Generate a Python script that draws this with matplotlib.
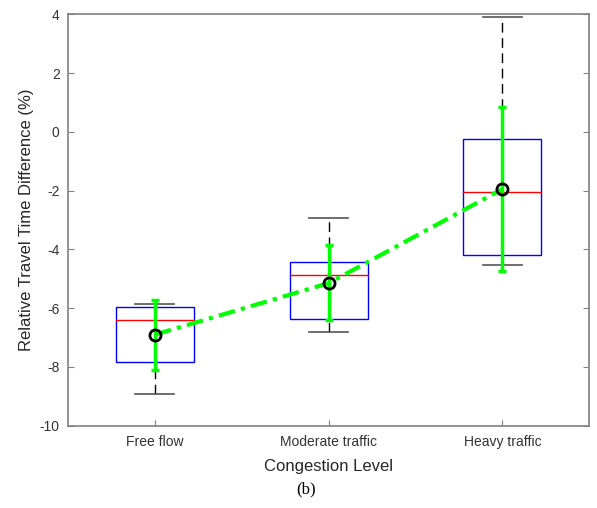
import matplotlib
matplotlib.use("Agg")
import matplotlib.pyplot as plt
import numpy as np

categories = ["Free flow", "Moderate traffic", "Heavy traffic"]
q1 = [-7.82, -6.38, -4.20]
median = [-6.42, -4.86, -2.05]
q3 = [-5.95, -4.42, -0.25]
whisker_low = [-8.92, -6.80, -4.52]
whisker_high = [-5.86, -2.95, 3.92]
mean = [-6.90, -5.15, -1.95]
err_low = [-8.10, -6.42, -4.75]
err_high = [-5.74, -3.84, 0.86]

plt.rcParams["font.family"] = ["Liberation Sans", "DejaVu Sans"]
plt.rcParams["axes.unicode_minus"] = False

fig = plt.figure(figsize=(5.97, 5.08), dpi=100)
ax = fig.add_axes([0.114, 0.162, 0.873, 0.810])

x = np.arange(1, len(categories) + 1)
box_w = 0.45
cap_w = 0.225

for xi, lo, a, m, b, hi in zip(x, whisker_low, q1, median, q3, whisker_high):
    ax.plot([xi, xi], [b, hi], color="black", linestyle=(0, (7, 4)), linewidth=1, zorder=2)
    ax.plot([xi, xi], [lo, a], color="black", linestyle=(0, (7, 4)), linewidth=1, zorder=2)
    ax.plot([xi - cap_w / 2, xi + cap_w / 2], [hi, hi], color="#555555", linewidth=1.2, zorder=2)
    ax.plot([xi - cap_w / 2, xi + cap_w / 2], [lo, lo], color="#555555", linewidth=1.2, zorder=2)
    ax.add_patch(plt.Rectangle((xi - box_w / 2, a), box_w, b - a, fill=False,
                               edgecolor="#0000ff", linewidth=1, zorder=3))
    ax.plot([xi - box_w / 2, xi + box_w / 2], [m, m], color="#ff0000", linewidth=1, zorder=3)

mean_arr = np.array(mean)
yerr = [mean_arr - np.array(err_low), np.array(err_high) - mean_arr]
ax.errorbar(x, mean, yerr=yerr, fmt="none", ecolor="#00ff00", elinewidth=2.5,
            capsize=3, capthick=2.5, zorder=4)
ax.plot(x, mean, color="#00ff00", linestyle=(0, (4, 1.5, 1, 1.5)), linewidth=3, zorder=4)
ax.plot(x, mean, linestyle="none", marker="o", markersize=8, markerfacecolor="none",
        markeredgecolor="black", markeredgewidth=2, zorder=5)

ax.set_xlim(0.5, 3.5)
ax.set_ylim(-10, 4)
ax.set_yticks(np.arange(-10, 5, 2))
ax.set_xticks(x)
ax.set_xticklabels(categories)
ax.tick_params(direction="in", length=4, color="#808080", labelcolor="#333333",
               labelsize=10, right=True, top=False)
ax.tick_params(axis="x", pad=7)
ax.tick_params(axis="y", pad=6)
for spine in ax.spines.values():
    spine.set_color("#808080")
    spine.set_linewidth(1.2)

ax.set_xlabel("Congestion Level", fontsize=12, color="#262626", labelpad=7)
ax.set_ylabel("Relative Travel Time Difference (%)", fontsize=12, color="#262626", labelpad=4)

fig.text(0.512, 0.037, "(b)", fontsize=12, family=["Liberation Serif", "DejaVu Serif"],
         ha="center", va="center")

fig.savefig("out.png", dpi=100)
